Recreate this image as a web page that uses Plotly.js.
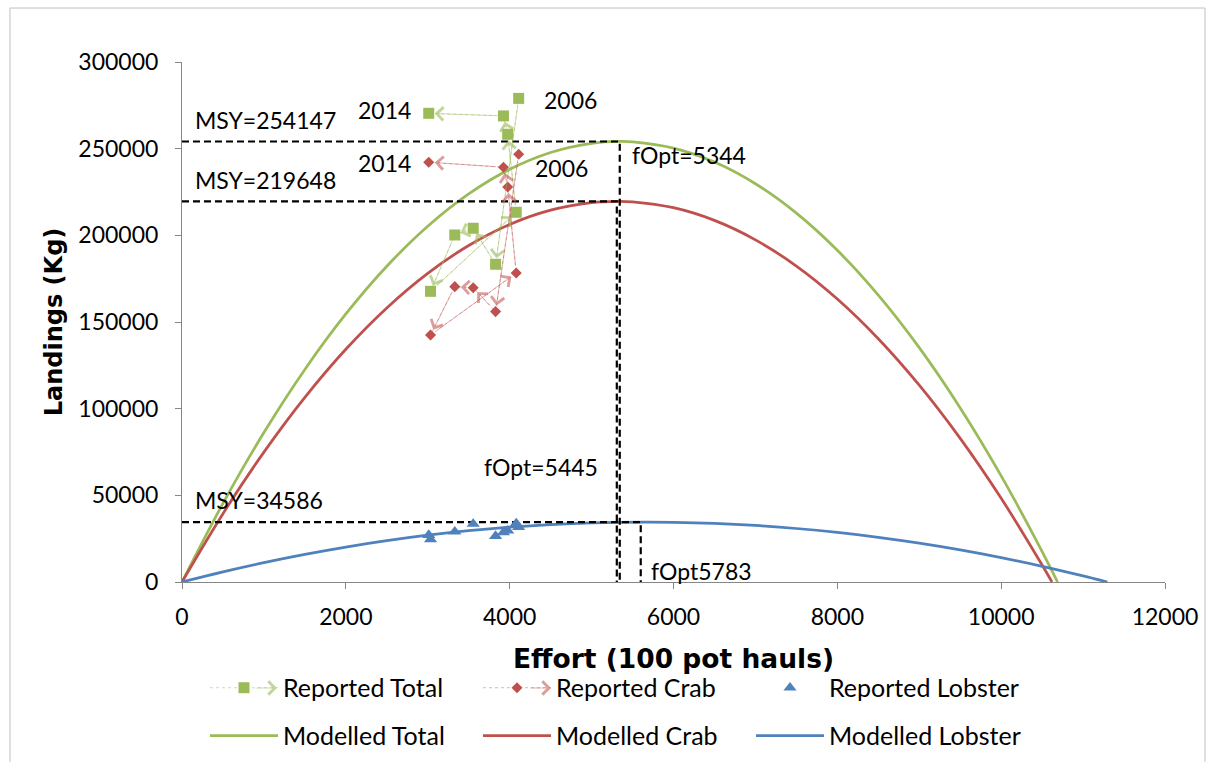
<!DOCTYPE html>
<html><head><meta charset="utf-8">
<script src="https://cdn.plot.ly/plotly-3.0.1.min.js"></script>
<style>html,body{margin:0;padding:0;background:#fff}#chart{width:1208px;height:762px}</style>
</head><body><div id="chart"></div>
<script>
// ---- Reported data (2006 -> 2014) ----
const years = [2006, 2007, 2008, 2009, 2010, 2011, 2012, 2013, 2014];
const effort = [4110, 3828, 3555, 3330, 3034, 4080, 3976, 3924, 3012];
const reportedTotal = [279000, 183300, 204100, 200200, 167700, 213300, 258300, 268900, 270400];
const reportedCrab = [246800, 156000, 169800, 170400, 142500, 178300, 227900, 239300, 242200];
const reportedLobster = [31600, 26500, 33500, 29000, 24600, 33800, 29600, 28700, 27100];

// ---- Modelled curves ----
const modelEffortTotal = [0,500,1000,1500,2000,2500,3000,3500,4000,4500,5000,5344,5500,6000,6500,7000,7500,8000,8500,9000,9500,10000,10500,10688];
const modelTotal = [0,45333,86215,122649,154632,182168,205252,223885,238072,247808,253095,254147,253931,250317,242253,229741,212780,191369,165509,135198,100436,61226,17567,0];
const modelEffortCrab = [0,500,1000,1500,2000,2500,3000,3500,4000,4500,5000,5310,5500,6000,6500,7000,7500,8000,8500,9000,9500,10000,10500,10620];
const modelCrab = [0,39418,74940,106567,134301,158138,178080,194127,206280,214537,218899,219648,219367,215938,208617,197400,182286,163278,140375,113578,82887,48298,9816,0];
const modelEffortLobster = [0,500,1000,1500,2000,2500,3000,3500,4000,4500,5000,5648,6000,6500,7000,7500,8000,8500,9000,9500,10000,10500,11000,11296];
const modelLobster = [0,5853,11163,15931,20158,23841,26984,29584,31641,33157,34131,34586,34452,33799,32604,30867,28588,25767,22404,18499,14051,9062,3530,0];

// ---- Reference (MSY / fOpt) lines ----
const msyValues = [254147, 219648, 34586];
const fOptLineX = [5344, 5308, 5600];

// ---- Axis ticks ----
const xTicks = [0, 2000, 4000, 6000, 8000, 10000, 12000];
const yTicks = [0, 50000, 100000, 150000, 200000, 250000, 300000];

const GREEN = '#9BBB59', RED = '#C0504D', BLUE = '#4F81BD';
const GREEN_LT = 'rgba(155,187,89,0.6)', RED_LT = 'rgba(192,80,77,0.55)';
const FONT = 'Lato, "Open Sans", sans-serif';

const traces = [
  {x: modelEffortTotal, y: modelTotal, name: 'Modelled Total', mode: 'lines', line: {color: GREEN, width: 2.75, shape: 'spline'}, legend: 'legend2'},
  {x: modelEffortCrab, y: modelCrab, name: 'Modelled Crab', mode: 'lines', line: {color: RED, width: 2.75, shape: 'spline'}, legend: 'legend2'},
  {x: modelEffortLobster, y: modelLobster, name: 'Modelled Lobster', mode: 'lines', line: {color: BLUE, width: 2.75, shape: 'spline'}, legend: 'legend2'}
];
msyValues.forEach((m, i) => {
  traces.push({x: [0, fOptLineX[i], fOptLineX[i]], y: [m, m, 0], mode: 'lines', showlegend: false, hoverinfo: 'skip',
    line: {color: '#000', width: 2.2, dash: '7px,4px'}});
});
traces.push(
  {x: effort, y: reportedTotal, text: years, name: 'Reported Total', mode: 'lines+markers', legend: 'legend',
   line: {color: GREEN_LT, width: 0.8, dash: 'dot'}, marker: {symbol: 'square', size: 11, color: GREEN}},
  {x: effort, y: reportedCrab, text: years, name: 'Reported Crab', mode: 'lines+markers', legend: 'legend',
   line: {color: RED_LT, width: 0.8, dash: 'dot'}, marker: {symbol: 'diamond', size: 8.5, color: RED}},
  {x: effort, y: reportedLobster, text: years, name: 'Reported Lobster', mode: 'markers', legend: 'legend',
   marker: {symbol: 'triangle-up', size: 11.5, color: BLUE}}
);

const annotations = [];
function arrows(ys, color) {
  for (let i = 1; i < effort.length; i++) {
    annotations.push({x: effort[i], y: ys[i], ax: effort[i-1], ay: ys[i-1], xref: 'x', yref: 'y', axref: 'x', ayref: 'y',
      text: '', showarrow: true, arrowhead: 4, arrowsize: 3.2, arrowwidth: 0.8, arrowcolor: color, standoff: 6, startstandoff: 6});
  }
}
arrows(reportedTotal, GREEN_LT);
arrows(reportedCrab, RED_LT);

const labelFont = {family: FONT, size: 23, color: '#000'};
function lbl(text, x, y, xanchor) {
  annotations.push({text: text, x: x, y: y, xref: 'x', yref: 'y', showarrow: false, xanchor: xanchor, yanchor: 'middle', font: labelFont});
}
lbl('MSY=' + msyValues[0], 134, 266500, 'left');
lbl('MSY=' + msyValues[1], 134, 231900, 'left');
lbl('MSY=' + msyValues[2], 134, 47300, 'left');
lbl(String(years[8]), 2821, 272300, 'right');
lbl(String(years[0]), 4396, 277800, 'left');
lbl(String(years[8]), 2821, 241700, 'right');
lbl(String(years[0]), 4290, 238700, 'left');
lbl('fOpt=5344', 5471, 246300, 'left');
lbl('fOpt=5445', 5104, 66350, 'right');
lbl('fOpt5783', 5703, 6350, 'left');

// legend arrowheads
[[0.0966, GREEN_LT], [0.3754, RED_LT]].forEach(([px, c]) => {
  annotations.push({x: px, y: -0.2038, xref: 'paper', yref: 'paper', ax: -22, ay: 0, text: '', showarrow: true,
    arrowhead: 4, arrowsize: 3.2, arrowwidth: 0.8, arrowcolor: c, standoff: 0});
});

const legendBase = {orientation: 'h', x: 0.0234, xanchor: 'left', yanchor: 'middle', entrywidth: 190, entrywidthmode: 'pixels',
  itemwidth: 68, font: {family: FONT, size: 25, color: '#000'}, bgcolor: 'rgba(0,0,0,0)', traceorder: 'normal'};

const layout = {
  width: 1208, height: 762,
  margin: {l: 182, r: 43, t: 62, b: 180, autoexpand: false},
  paper_bgcolor: '#fff', plot_bgcolor: '#fff',
  font: {family: FONT, size: 23, color: '#000'},
  showlegend: true,
  xaxis: {range: [0, 12000], tickvals: xTicks, ticktext: xTicks.map(String), showgrid: false, zeroline: false,
    showline: true, linecolor: '#868686', linewidth: 1, ticks: 'outside', ticklen: 6, tickcolor: '#868686',
    ticklabelstandoff: 8, tickfont: {family: FONT, size: 23, color: '#000'},
    title: {text: 'Effort (100 pot hauls)', standoff: 20, font: {family: 'DejaVu Sans', size: 26.5, weight: 'bold', color: '#000'}}},
  yaxis: {range: [0, 300000], tickvals: yTicks, ticktext: yTicks.map(String), showgrid: false, zeroline: false,
    showline: true, linecolor: '#868686', linewidth: 1, ticks: 'outside', ticklen: 6, tickcolor: '#868686',
    ticklabelstandoff: 12, tickfont: {family: FONT, size: 23, color: '#000'},
    title: {text: 'Landings (Kg)', standoff: 8, font: {family: 'DejaVu Sans', size: 24, weight: 'bold', color: '#000'}}},
  legend: Object.assign({}, legendBase, {y: -0.2038}),
  legend2: Object.assign({}, legendBase, {y: -0.296}),
  annotations: annotations,
  shapes: [{type: 'rect', xref: 'paper', yref: 'paper', x0: -0.175, x1: 1.0407, y0: -0.3615, y1: 1.1038,
    line: {color: '#bfbfbf', width: 1}, fillcolor: 'rgba(0,0,0,0)', layer: 'below'}]
};

Plotly.newPlot('chart', traces, layout, {displayModeBar: false, staticPlot: true});
</script>
</body></html>
